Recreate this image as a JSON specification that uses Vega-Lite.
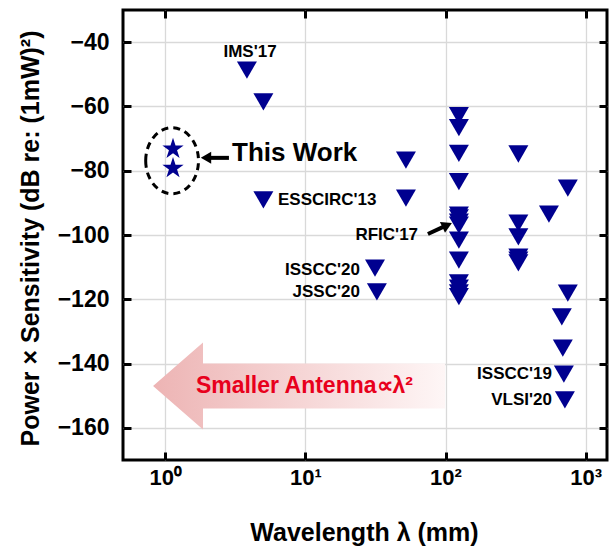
{
  "$schema": "https://vega.github.io/schema/vega-lite/v6.json",
  "width": 484,
  "height": 450,
  "autosize": {"type": "none"},
  "padding": {"left": 123, "top": 10, "right": 5, "bottom": 88},
  "background": "white",
  "config": {
    "view": {"stroke": "black", "strokeWidth": 3},
    "font": "Liberation Sans, Arial, sans-serif"
  },
  "datasets": {
    "tri": [
      {"lambda": 3.83, "ps": -48.7},
      {"lambda": 5.02, "ps": -58.6},
      {"lambda": 5.02, "ps": -89.1},
      {"lambda": 52.2, "ps": -76.7},
      {"lambda": 52.2, "ps": -88.5},
      {"lambda": 124.6, "ps": -62.9},
      {"lambda": 124.6, "ps": -66.6},
      {"lambda": 124.6, "ps": -74.6},
      {"lambda": 124.6, "ps": -83.4},
      {"lambda": 124.6, "ps": -93.8},
      {"lambda": 124.6, "ps": -94.7},
      {"lambda": 124.6, "ps": -96.0},
      {"lambda": 124.6, "ps": -96.9},
      {"lambda": 124.6, "ps": -101.6},
      {"lambda": 124.6, "ps": -107.8},
      {"lambda": 124.6, "ps": -114.9},
      {"lambda": 124.6, "ps": -116.5},
      {"lambda": 124.6, "ps": -118.0},
      {"lambda": 124.6, "ps": -119.2},
      {"lambda": 331, "ps": -74.8},
      {"lambda": 331, "ps": -96.3},
      {"lambda": 331, "ps": -100.6},
      {"lambda": 331, "ps": -106.9},
      {"lambda": 331, "ps": -107.8},
      {"lambda": 331, "ps": -108.7},
      {"lambda": 746, "ps": -85.4},
      {"lambda": 547, "ps": -93.5},
      {"lambda": 746, "ps": -118.1},
      {"lambda": 676, "ps": -125.5},
      {"lambda": 687, "ps": -135.2},
      {"lambda": 699, "ps": -143.3},
      {"lambda": 711, "ps": -151.3},
      {"lambda": 31.4, "ps": -110.3},
      {"lambda": 32.4, "ps": -117.7}
    ],
    "star": [
      {"lambda": 1.137, "ps": -73.2},
      {"lambda": 1.137, "ps": -79.2}
    ],
    "ellipse": [{"lambda": 1.12, "ps": -76.9}],
    "bigarrow": [{"lambda": 9.02, "ps": -147.0}],
    "bigtext": [{"lambda": 9.85, "ps": -147.0, "text": "Smaller Antenna∝λ²"}],
    "rules": [
      {"lambda": 1.955, "ps": -76.0, "lambda2": 2.85, "ps2": -76.0},
      {"lambda": 74.9, "ps": -99.7, "lambda2": 100.7, "ps2": -97.1}
    ],
    "headLeft": [{"lambda": 1.955, "ps": -76.0}],
    "headRight": [{"lambda": 102.8, "ps": -96.96}],
    "thiswork": [{"lambda": 3.0, "ps": -74.5, "text": "This Work"}],
    "lblCenter": [{"lambda": 4.03, "ps": -43.1, "text": "IMS'17"}],
    "lblLeft": [{"lambda": 6.38, "ps": -89.1, "text": "ESSCIRC'13"}],
    "lblRight": [
      {"lambda": 63.7, "ps": -100.0, "text": "RFIC'17"},
      {"lambda": 24.5, "ps": -110.9, "text": "ISSCC'20"},
      {"lambda": 24.5, "ps": -117.7, "text": "JSSC'20"},
      {"lambda": 575, "ps": -143.3, "text": "ISSCC'19"},
      {"lambda": 575, "ps": -151.3, "text": "VLSI'20"}
    ]
  },
  "resolve": {"axis": {"x": "independent", "y": "independent"}},
  "layer": [
    {
      "data": {"name": "bigarrow"},
      "mark": {
        "type": "point",
        "shape": "M-1,0 L-0.658,-0.298 L-0.658,-0.154 L1,-0.154 L1,0.154 L-0.658,0.154 L-0.658,0.298 Z",
        "size": 85264,
        "filled": true,
        "opacity": 1,
        "strokeWidth": 0,
        "fill": {"gradient": "linear", "x1": 0, "x2": 1, "y1": 0, "y2": 0, "stops": [{"offset": 0, "color": "#edb4b4"}, {"offset": 1, "color": "#fef6f6"}]}
      },
      "encoding": {
        "x": {
          "field": "lambda", "type": "quantitative",
          "scale": {"type": "log", "domain": [0.5, 1420], "nice": false},
          "axis": {
            "orient": "bottom", "values": [1, 10, 100, 1000],
            "labelExpr": "'10' + (datum.value == 1 ? '⁰' : datum.value == 10 ? '¹' : datum.value == 100 ? '²' : '³')",
            "title": "Wavelength λ (mm)",
            "grid": true, "gridColor": "#d9d9d9", "gridWidth": 1.3,
            "domain": false, "tickSize": -8, "tickWidth": 3, "tickColor": "black",
            "labelFontSize": 22, "labelFontWeight": "bold", "labelColor": "black", "labelPadding": 15, "labelFlush": false,
            "titleFontSize": 25, "titleFontWeight": "bold", "titleColor": "black",
            "titleX": 241, "titleY": 72, "titleBaseline": "middle", "titleAlign": "center"
          }
        },
        "y": {
          "field": "ps", "type": "quantitative",
          "scale": {"domain": [-170, -30], "nice": false, "zero": false},
          "axis": {
            "orient": "left", "values": [-160, -140, -120, -100, -80, -60, -40],
            "title": "Power × Sensitivity (dB re: (1mW)²)",
            "grid": true, "gridColor": "#d9d9d9", "gridWidth": 1.3,
            "domain": false, "tickSize": -8, "tickWidth": 3, "tickColor": "black",
            "labelFontSize": 23, "labelFontWeight": "bold", "labelColor": "black", "labelPadding": 22,
            "titleFontSize": 25, "titleFontWeight": "bold", "titleColor": "black",
            "titleX": -93, "titleY": 228, "titleAngle": 270, "titleBaseline": "middle", "titleAlign": "center"
          }
        }
      }
    },
    {
      "data": {"name": "ellipse"},
      "mark": {
        "type": "point",
        "shape": "M-0.8,0 A0.8,1 0 1,0 0.8,0 A0.8,1 0 1,0 -0.8,0 Z",
        "size": 4356, "filled": false, "opacity": 1,
        "stroke": "black", "strokeWidth": 3, "strokeDash": [7, 5]
      },
      "encoding": {
        "x": {"field": "lambda", "type": "quantitative",
          "axis": {"orient": "top", "values": [1, 10, 100, 1000], "labels": false, "title": null, "grid": false, "domain": false, "tickSize": -8, "tickWidth": 3, "tickColor": "black"}},
        "y": {"field": "ps", "type": "quantitative",
          "axis": {"orient": "right", "values": [-160, -140, -120, -100, -80, -60, -40], "labels": false, "title": null, "grid": false, "domain": false, "tickSize": -8, "tickWidth": 3, "tickColor": "black"}}
      }
    },
    {
      "data": {"name": "bigtext"},
      "mark": {"type": "text", "fontSize": 23, "fontWeight": "bold", "color": "#e8001c", "align": "center", "baseline": "middle"},
      "encoding": {
        "x": {"field": "lambda", "type": "quantitative", "axis": null},
        "y": {"field": "ps", "type": "quantitative", "axis": null},
        "text": {"field": "text"}
      }
    },
    {
      "data": {"name": "tri"},
      "mark": {"type": "point", "shape": "triangle-down", "filled": true, "size": 400, "opacity": 1, "color": "#00008f", "strokeWidth": 0},
      "encoding": {
        "x": {"field": "lambda", "type": "quantitative", "axis": null},
        "y": {"field": "ps", "type": "quantitative", "axis": null}
      }
    },
    {
      "data": {"name": "star"},
      "mark": {"type": "point", "shape": "M0,-1 L0.225,-0.309 L0.951,-0.309 L0.363,0.118 L0.588,0.809 L0,0.382 L-0.588,0.809 L-0.363,0.118 L-0.951,-0.309 L-0.225,-0.309 Z", "filled": true, "size": 500, "opacity": 1, "color": "#00008f", "strokeWidth": 0},
      "encoding": {
        "x": {"field": "lambda", "type": "quantitative", "axis": null},
        "y": {"field": "ps", "type": "quantitative", "axis": null}
      }
    },
    {
      "data": {"name": "rules"},
      "mark": {"type": "rule", "color": "black", "strokeWidth": 4},
      "encoding": {
        "x": {"field": "lambda", "type": "quantitative", "axis": null},
        "y": {"field": "ps", "type": "quantitative", "axis": null},
        "x2": {"field": "lambda2"},
        "y2": {"field": "ps2"}
      }
    },
    {
      "data": {"name": "headLeft"},
      "mark": {"type": "point", "shape": "triangle-left", "filled": true, "size": 144, "opacity": 1, "color": "black", "strokeWidth": 0},
      "encoding": {
        "x": {"field": "lambda", "type": "quantitative", "axis": null},
        "y": {"field": "ps", "type": "quantitative", "axis": null}
      }
    },
    {
      "data": {"name": "headRight"},
      "mark": {"type": "point", "shape": "triangle-right", "angle": 335, "filled": true, "size": 144, "opacity": 1, "color": "black", "strokeWidth": 0},
      "encoding": {
        "x": {"field": "lambda", "type": "quantitative", "axis": null},
        "y": {"field": "ps", "type": "quantitative", "axis": null}
      }
    },
    {
      "data": {"name": "thiswork"},
      "mark": {"type": "text", "fontSize": 26, "fontWeight": "bold", "color": "black", "align": "left", "baseline": "middle"},
      "encoding": {
        "x": {"field": "lambda", "type": "quantitative", "axis": null},
        "y": {"field": "ps", "type": "quantitative", "axis": null},
        "text": {"field": "text"}
      }
    },
    {
      "data": {"name": "lblCenter"},
      "mark": {"type": "text", "fontSize": 17, "fontWeight": "bold", "color": "black", "align": "center", "baseline": "middle"},
      "encoding": {
        "x": {"field": "lambda", "type": "quantitative", "axis": null},
        "y": {"field": "ps", "type": "quantitative", "axis": null},
        "text": {"field": "text"}
      }
    },
    {
      "data": {"name": "lblLeft"},
      "mark": {"type": "text", "fontSize": 17, "fontWeight": "bold", "color": "black", "align": "left", "baseline": "middle"},
      "encoding": {
        "x": {"field": "lambda", "type": "quantitative", "axis": null},
        "y": {"field": "ps", "type": "quantitative", "axis": null},
        "text": {"field": "text"}
      }
    },
    {
      "data": {"name": "lblRight"},
      "mark": {"type": "text", "fontSize": 17, "fontWeight": "bold", "color": "black", "align": "right", "baseline": "middle"},
      "encoding": {
        "x": {"field": "lambda", "type": "quantitative", "axis": null},
        "y": {"field": "ps", "type": "quantitative", "axis": null},
        "text": {"field": "text"}
      }
    }
  ]
}
